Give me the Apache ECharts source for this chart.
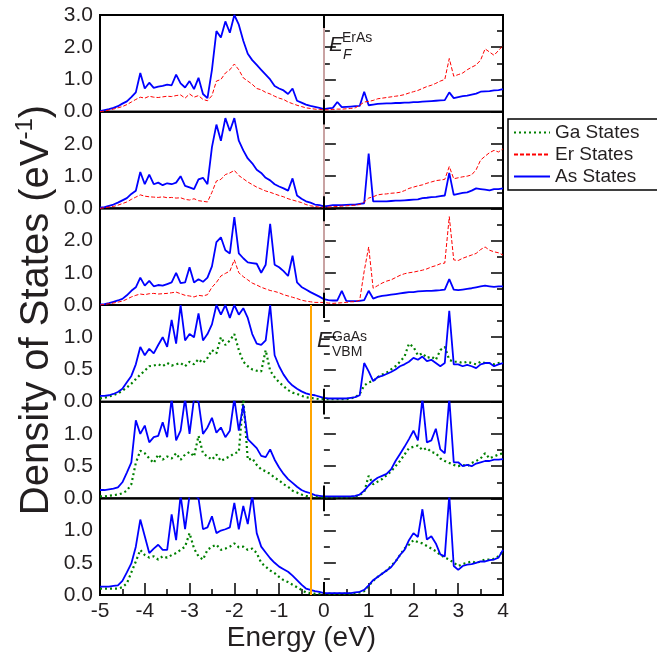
<!DOCTYPE html>
<html>
<head>
<meta charset="utf-8">
<title>Density of States</title>
<script src="https://cdn.jsdelivr.net/npm/echarts@6/dist/echarts.min.js"></script>
<style>
  html, body { margin: 0; padding: 0; background: #fff; }
  #chart { width: 657px; height: 656px; }
</style>
</head>
<body>
<div id="chart"></div>
<script>
// energy grid (eV), sampled every 0.1 eV from -5 to 4
const energy = Array.from({ length: 91 }, (_, i) => +(-5 + i * 0.1).toFixed(1));

// panel 1 (ErAs side)
const asP1 = [
  0.02, 0.05, 0.08, 0.12, 0.17, 0.25, 0.32, 0.45, 0.6, 1.2,
  0.72, 0.9, 0.74, 0.78, 0.8, 0.84, 0.82, 1.15, 0.88, 0.75,
  0.95, 0.7, 1.05, 0.55, 0.42, 1.3, 2.5, 2.3, 2.8, 2.45,
  3.0, 2.7, 2.2, 1.8, 1.6, 1.45, 1.3, 1.15, 1.0, 0.8,
  0.72, 0.66, 0.55, 0.72, 0.34, 0.28, 0.22, 0.18, 0.15, 0.12,
  0.08, 0.1, 0.12, 0.3, 0.14, 0.15, 0.16, 0.17, 0.18, 0.62,
  0.2, 0.22, 0.24, 0.25, 0.26, 0.26, 0.27, 0.27, 0.28, 0.28,
  0.3, 0.3, 0.31, 0.32, 0.33, 0.34, 0.35, 0.36, 0.6, 0.42,
  0.45, 0.48, 0.5, 0.53, 0.56, 0.62, 0.63, 0.64, 0.66, 0.67,
  0.7
];
const erP1 = [
  0.0, 0.02, 0.05, 0.08, 0.12, 0.16, 0.22, 0.3, 0.38, 0.45,
  0.42, 0.48, 0.45, 0.44, 0.46, 0.48, 0.47, 0.5, 0.52, 0.42,
  0.55, 0.45, 0.5, 0.38, 0.34, 0.5, 0.95, 1.0, 1.2, 1.3,
  1.48, 1.3, 1.05, 0.95, 0.85, 0.72, 0.68, 0.6, 0.55, 0.48,
  0.42, 0.38, 0.3, 0.25, 0.2, 0.16, 0.12, 0.1, 0.08, 0.07,
  0.06, 0.06, 0.07, 0.08, 0.08, 0.09, 0.1, 0.12, 0.2, 0.3,
  0.32, 0.35, 0.4, 0.42, 0.44, 0.46, 0.48, 0.5, 0.53, 0.58,
  0.62, 0.66, 0.72, 0.78, 0.82, 0.88, 0.95, 1.0, 1.65, 1.1,
  1.15, 1.2, 1.3, 1.38, 1.45, 1.6, 1.95, 1.85, 1.75, 1.9,
  2.05
];

// panel 2
const asP2 = [
  0.02, 0.04, 0.08, 0.12, 0.18, 0.25, 0.32, 0.45, 0.55, 1.13,
  0.75, 1.05, 0.75, 0.8, 0.72, 0.78, 0.75, 0.8, 1.0, 0.7,
  0.65, 0.6, 0.9, 0.95, 0.75, 1.9, 2.6, 2.1, 2.8, 2.4,
  2.8, 2.1, 1.8, 1.55, 1.4, 1.2, 1.1, 0.95, 0.87, 0.75,
  0.68, 0.62, 0.55, 0.93, 0.4, 0.3, 0.22, 0.18, 0.12, 0.1,
  0.06, 0.08, 0.1, 0.1, 0.1, 0.11, 0.12, 0.12, 0.14, 0.16,
  1.7, 0.22, 0.22, 0.22, 0.22, 0.23, 0.24, 0.24, 0.25, 0.26,
  0.27, 0.28, 0.32, 0.33, 0.35, 0.36, 0.38, 0.4, 1.1, 0.42,
  0.45, 0.48, 0.5, 0.55, 0.62, 0.6, 0.58, 0.56, 0.6, 0.6,
  0.62
];
const erP2 = [
  0.0, 0.02, 0.04, 0.06, 0.1, 0.15, 0.2, 0.28, 0.35, 0.42,
  0.38, 0.36, 0.35, 0.34, 0.36, 0.33, 0.34, 0.32, 0.33, 0.28,
  0.26, 0.3, 0.24, 0.22, 0.2, 0.5, 0.85, 0.9, 1.05, 1.1,
  1.18, 1.02, 0.92, 0.82, 0.74, 0.66, 0.6, 0.54, 0.5, 0.45,
  0.4, 0.36, 0.3, 0.26, 0.22, 0.18, 0.12, 0.08, 0.06, 0.04,
  0.03, 0.04, 0.05, 0.06, 0.07, 0.08, 0.09, 0.1, 0.12, 0.2,
  0.32, 0.36, 0.42, 0.44, 0.45, 0.47, 0.48, 0.5, 0.55, 0.62,
  0.66, 0.7, 0.73, 0.78, 0.82, 0.86, 0.88, 0.9, 1.3, 0.92,
  0.95, 0.98, 1.0, 1.04, 1.2, 1.5, 1.62, 1.73, 1.8, 1.75,
  1.85
];

// panel 3
const asP3 = [
  0.02, 0.03, 0.06, 0.1, 0.14, 0.19, 0.3, 0.44, 0.55, 0.85,
  0.6, 0.75, 0.58, 0.62, 0.6, 0.65, 0.7, 1.0, 0.68, 0.7,
  1.17, 0.7, 0.8, 0.72, 0.85, 1.2, 1.95, 2.1, 1.7, 1.6,
  2.73, 1.6, 1.45, 1.32, 1.3, 1.28, 1.0, 1.25, 2.52, 1.25,
  1.17, 1.05, 0.9, 1.53, 0.7, 0.56, 0.48, 0.4, 0.33, 0.26,
  0.18, 0.15, 0.14, 0.14, 0.44, 0.13, 0.12, 0.12, 0.13, 0.15,
  0.44, 0.2, 0.25, 0.28, 0.3, 0.32, 0.34, 0.36, 0.38, 0.4,
  0.4, 0.42, 0.43, 0.44, 0.44, 0.45, 0.46, 0.48, 0.8, 0.48,
  0.46, 0.48, 0.5, 0.52, 0.55, 0.58, 0.6, 0.58, 0.56, 0.58,
  0.58
];
const erP3 = [
  0.0, 0.02, 0.04, 0.06, 0.09, 0.12, 0.18, 0.25, 0.3, 0.34,
  0.32, 0.35, 0.36, 0.34, 0.35, 0.36, 0.38, 0.4, 0.35, 0.3,
  0.28, 0.25, 0.3, 0.28, 0.32, 0.55, 0.7, 0.9, 0.98, 1.05,
  1.4, 1.0, 0.88, 0.78, 0.68, 0.62, 0.55, 0.5, 0.45, 0.42,
  0.38, 0.32, 0.28, 0.24, 0.2, 0.15, 0.12, 0.1, 0.08, 0.08,
  0.08, 0.06, 0.05, 0.06, 0.07, 0.08, 0.1, 0.1, 0.15, 1.05,
  1.8, 0.52, 0.6, 0.68, 0.74, 0.78, 0.85, 0.92, 0.97, 1.0,
  1.02, 1.05, 1.08, 1.12, 1.18, 1.22, 1.28, 1.3, 2.74, 1.4,
  1.38, 1.45, 1.5, 1.55, 1.6, 1.72, 1.8, 1.7, 1.65, 1.62,
  1.55
];

// panel 4 (GaAs side)
const gaP4 = [
  0.05, 0.06, 0.08, 0.1, 0.13, 0.17, 0.22, 0.28, 0.35, 0.42,
  0.48, 0.55, 0.56, 0.58, 0.55, 0.6, 0.56, 0.58, 0.6, 0.55,
  0.62, 0.58, 0.66, 0.6, 0.68, 0.8, 0.75, 1.0, 0.88, 0.95,
  1.05, 0.8, 0.62, 0.55, 0.5, 0.48, 0.47, 0.8, 0.48, 0.38,
  0.3, 0.24, 0.18, 0.14, 0.12, 0.09, 0.07, 0.06, 0.05, 0.04,
  0.04, 0.04, 0.04, 0.04, 0.04, 0.04, 0.05, 0.07, 0.12, 0.25,
  0.3, 0.32, 0.38, 0.42, 0.45, 0.5, 0.55, 0.62, 0.7, 0.9,
  0.85, 0.72, 0.75, 0.68, 0.7, 0.65, 0.8, 0.85, 0.65, 0.62,
  0.62, 0.6, 0.62, 0.6, 0.58, 0.62, 0.6, 0.6, 0.58, 0.6,
  0.62
];
const asP4 = [
  0.09, 0.09, 0.1, 0.12, 0.15, 0.2, 0.3, 0.4, 0.58, 0.85,
  0.72, 0.82, 0.75, 0.88, 1.0, 0.85, 1.27, 0.9, 1.5, 0.95,
  1.05, 1.0, 1.37, 0.95, 1.05, 1.2, 1.5, 1.35, 1.5, 1.3,
  1.5, 1.35, 1.45, 1.3, 1.05, 0.9, 0.88, 0.95, 1.5, 0.72,
  0.55, 0.42, 0.32, 0.25, 0.2, 0.16, 0.13, 0.11, 0.1, 0.08,
  0.06, 0.05, 0.05, 0.05, 0.05, 0.05, 0.06, 0.07, 0.1, 0.6,
  0.47, 0.32, 0.38, 0.4, 0.43, 0.46, 0.5, 0.55, 0.58, 0.62,
  0.68, 0.65, 0.7, 0.63, 0.65, 0.6, 0.55, 0.6, 1.41, 0.58,
  0.58, 0.55, 0.57, 0.55, 0.52, 0.58, 0.6, 0.6, 0.55, 0.58,
  0.6
];

// panel 5
const gaP5 = [
  0.03, 0.03, 0.04, 0.05, 0.06, 0.08, 0.12, 0.22, 0.55, 0.74,
  0.7, 0.62, 0.55, 0.68, 0.6, 0.65, 0.62, 0.7, 0.6, 0.68,
  0.72, 0.65, 0.97, 0.7, 0.65, 0.6, 0.68, 0.58, 0.62, 0.65,
  0.7, 0.72, 1.55, 0.6, 0.62, 0.52, 0.45, 0.42, 0.38, 0.32,
  0.28, 0.22, 0.18, 0.12, 0.09, 0.06, 0.04, 0.03, 0.03, 0.02,
  0.02, 0.02, 0.02, 0.02, 0.02, 0.02, 0.02, 0.03, 0.05, 0.1,
  0.35, 0.22, 0.26, 0.3, 0.36, 0.42, 0.5, 0.58, 0.68, 0.78,
  0.8, 0.82, 0.75, 0.78, 0.72, 0.7, 0.62, 0.58, 0.55, 0.52,
  0.5, 0.52, 0.5, 0.55, 0.58, 0.62, 0.7, 0.62, 0.65, 0.68,
  0.7
];
const asP5 = [
  0.13, 0.13, 0.14, 0.15, 0.17, 0.25, 0.4, 0.56, 1.21, 1.0,
  1.13, 0.87, 0.95, 0.97, 1.18, 0.95, 1.55, 0.9, 1.05, 1.55,
  1.0, 1.55, 1.5, 1.0, 1.1, 1.25, 1.02, 1.1, 0.95, 1.05,
  1.55, 1.05, 1.45, 0.92, 0.85, 0.78, 0.66, 0.64, 0.76, 0.6,
  0.48, 0.38, 0.3, 0.24, 0.18, 0.13, 0.1, 0.08, 0.05, 0.04,
  0.03, 0.03, 0.03, 0.03, 0.03, 0.03, 0.03, 0.04, 0.06, 0.12,
  0.2, 0.27, 0.32, 0.35, 0.38, 0.45, 0.58, 0.69, 0.8, 0.92,
  1.05, 0.9, 1.55, 0.87, 0.9, 1.08, 0.76, 0.7, 1.55, 0.56,
  0.56, 0.5, 0.52, 0.5, 0.54, 0.56, 0.58, 0.58, 0.6, 0.6,
  0.61
];

// panel 6
const gaP6 = [
  0.1, 0.1, 0.1, 0.1, 0.1, 0.12, 0.18, 0.35, 0.52, 0.7,
  0.62, 0.58, 0.6, 0.55, 0.6, 0.58, 0.62, 0.65, 0.7, 0.75,
  0.96, 0.72, 0.6, 0.55, 0.7, 0.75, 0.78, 0.7, 0.72, 0.75,
  0.8, 0.74, 0.75, 0.7, 0.72, 0.65, 0.5, 0.44, 0.38, 0.34,
  0.28, 0.23, 0.2, 0.16, 0.12, 0.08, 0.04, 0.03, 0.02, 0.02,
  0.02, 0.02, 0.02, 0.02, 0.02, 0.02, 0.02, 0.03, 0.04, 0.06,
  0.14, 0.22, 0.28, 0.33, 0.38, 0.45, 0.52, 0.62, 0.72, 0.78,
  0.85, 0.82, 0.8, 0.76, 0.72, 0.68, 0.62, 0.58, 0.55, 0.5,
  0.45, 0.48, 0.5, 0.52, 0.5, 0.52, 0.55, 0.55, 0.56, 0.6,
  0.68
];
const asP6 = [
  0.13, 0.13, 0.13, 0.14, 0.15, 0.22, 0.35, 0.49, 0.75, 1.17,
  0.91, 0.65, 0.72, 0.78, 0.7, 0.7, 1.25, 0.85, 1.55, 1.02,
  1.55, 1.55, 1.5, 1.02, 1.05, 1.22, 0.96, 1.0, 1.02, 1.05,
  1.43, 1.02, 1.38, 1.1, 1.55, 0.96, 0.75, 0.66, 0.57, 0.5,
  0.44, 0.4, 0.36, 0.3, 0.23, 0.16, 0.1, 0.08, 0.06, 0.05,
  0.03, 0.03, 0.03, 0.03, 0.03, 0.03, 0.03, 0.04, 0.05, 0.08,
  0.15, 0.23, 0.28, 0.33, 0.38, 0.43, 0.52, 0.62, 0.7, 0.85,
  0.96, 0.9, 1.33, 0.86, 0.91, 0.8, 0.63, 0.6, 1.55, 0.45,
  0.39, 0.45, 0.47, 0.48, 0.5, 0.52, 0.52, 0.54, 0.55, 0.58,
  0.7
];

// reference energies
const fermiLevel = 0;     // E_F of ErAs
const vbmLevel = -0.3;    // E_VBM of GaAs

const FONT = '"Liberation Sans", Arial, Helvetica, sans-serif';
const TXT = '#231f20';
const BLUE = '#0000ff', RED = '#ff0000', GREEN = '#008000';

const panels = [
  { top: 15,    max: 3,   interval: 1,   first: ['As States', asP1], second: ['Er States', erP1] },
  { top: 111.7, max: 3,   interval: 1,   first: ['As States', asP2], second: ['Er States', erP2] },
  { top: 208.3, max: 3,   interval: 1,   first: ['As States', asP3], second: ['Er States', erP3] },
  { top: 305,   max: 1.5, interval: 0.5, first: ['Ga States', gaP4], second: ['As States', asP4] },
  { top: 401.7, max: 1.5, interval: 0.5, first: ['Ga States', gaP5], second: ['As States', asP5] },
  { top: 498.3, max: 1.5, interval: 0.5, first: ['Ga States', gaP6], second: ['As States', asP6] }
];
const H = 96.7;

const styles = {
  'As States': { color: BLUE, width: 1.8, type: 'solid' },
  'Er States': { color: RED, width: 1, type: [4, 2] },
  'Ga States': { color: GREEN, width: 2.2, type: [2, 3] }
};

const grids = [], xAxes = [], yAxes = [], series = [];

panels.forEach((p, i) => {
  const last = i === panels.length - 1;
  grids.push({
    left: 100, width: 403, top: p.top, height: H,
    show: true, borderColor: '#000', borderWidth: 2, backgroundColor: 'transparent',
    outerBoundsMode: 'none'
  });
  xAxes.push({
    type: 'value', gridIndex: i, min: -5, max: 4, interval: 1,
    axisLine: { show: false },
    axisTick: { show: last, inside: true, length: 12, lineStyle: { color: '#000', width: 1.5 } },
    minorTick: { show: last, splitNumber: 2, length: 6, lineStyle: { color: '#000', width: 1.5 } },
    splitLine: { show: false },
    axisLabel: { show: last, fontSize: 21, fontFamily: FONT, color: TXT, margin: 6 },
    name: last ? 'Energy (eV)' : '',
    nameLocation: 'middle', nameGap: 29,
    nameTextStyle: { fontSize: 28, fontFamily: FONT, color: TXT }
  });
  const yBase = {
    type: 'value', gridIndex: i, min: 0, max: p.max, interval: p.interval,
    axisLine: { show: false },
    axisTick: { show: true, inside: true, length: 12, lineStyle: { color: '#000', width: 1.5 } },
    minorTick: { show: true, splitNumber: 2, length: 6, lineStyle: { color: '#000', width: 1.5 } },
    splitLine: { show: false }
  };
  yAxes.push(Object.assign({}, yBase, {
    position: 'left',
    axisLabel: {
      fontSize: 21, fontFamily: FONT, color: TXT, margin: 7,
      formatter: v => (i > 0 && v >= p.max - 1e-9) ? '' : v.toFixed(1)
    }
  }));
  yAxes.push(Object.assign({}, yBase, { position: 'right', axisLabel: { show: false } }));

  // reference lines for this panel
  const lines = [];
  if (i < 3) {
    lines.push([{ coord: [fermiLevel, 0], lineStyle: { color: '#000', width: 2, type: 'solid' } }, { coord: [fermiLevel, p.max] }]);
    lines.push([{ coord: [fermiLevel, 0.38], lineStyle: { color: '#c9a3a3', width: 2, type: 'solid' } }, { coord: [fermiLevel, p.max - 0.4] }]);
  } else {
    lines.push([{ coord: [fermiLevel, 0], lineStyle: { color: '#000', width: 2, type: 'solid' } }, { coord: [fermiLevel, 0.2] }]);
    lines.push([{ coord: [fermiLevel, p.max - 0.2], lineStyle: { color: '#000', width: 2, type: 'solid' } }, { coord: [fermiLevel, p.max] }]);
    lines.push([{ coord: [vbmLevel, 0], lineStyle: { color: '#ffa500', width: 2, type: 'solid' } }, { coord: [vbmLevel, p.max] }]);
  }

  [p.first, p.second].forEach(([name, vals], k) => {
    const s = styles[name];
    series.push({
      name, type: 'line', xAxisIndex: i, yAxisIndex: i * 2,
      data: energy.map((e, j) => [e, vals[j]]),
      symbol: 'none', showSymbol: false, clip: true,
      lineStyle: { color: s.color, width: s.width, type: s.type },
      itemStyle: { color: s.color },
      z: 2 + k,
      markLine: k === 0 ? {
        silent: true, symbol: 'none', label: { show: false },
        lineStyle: { type: 'solid' }, data: lines
      } : undefined
    });
  });
});

const chart = echarts.init(document.getElementById('chart'), null, { renderer: 'canvas' });
chart.setOption({
  animation: false,
  backgroundColor: '#fff',
  grid: grids,
  xAxis: xAxes,
  yAxis: yAxes,
  series,
  legend: {
    data: ['Ga States', 'Er States', 'As States'],
    orient: 'vertical', left: 508, top: 119,
    padding: [4, 40, 4, 5], itemGap: 3,
    itemWidth: 36, itemHeight: 14,
    borderColor: '#000', borderWidth: 1.5, borderRadius: 0,
    backgroundColor: '#fff',
    itemStyle: { opacity: 0 },
    textStyle: { fontSize: 19, fontFamily: FONT, color: TXT },
    selectedMode: false
  },
  graphic: [
    {
      type: 'text', x: 34, y: 310, rotation: Math.PI / 2,
      style: {
        text: '{t|Density of States (eV}{s|-1}{t|)}',
        align: 'center', verticalAlign: 'middle', fill: TXT,
        rich: {
          t: { fontSize: 40, fontFamily: FONT, fill: TXT, lineHeight: 46, verticalAlign: 'bottom' },
          s: { fontSize: 24, fontFamily: FONT, fill: TXT, lineHeight: 46, verticalAlign: 'top', padding: [2, 0, 0, 0] }
        }
      }
    },
    { type: 'text', x: 329, y: 45, style: { text: 'E', font: 'italic 21px ' + FONT, fill: TXT, verticalAlign: 'middle' } },
    { type: 'text', x: 342, y: 38, style: { text: 'ErAs', font: '14px ' + FONT, fill: TXT, verticalAlign: 'middle' } },
    { type: 'text', x: 343, y: 55, style: { text: 'F', font: 'italic 14px ' + FONT, fill: TXT, verticalAlign: 'middle' } },
    { type: 'text', x: 317, y: 341, style: { text: 'E', font: 'italic 22px ' + FONT, fill: TXT, verticalAlign: 'middle' } },
    { type: 'text', x: 332, y: 337, style: { text: 'GaAs', font: '14px ' + FONT, fill: TXT, verticalAlign: 'middle' } },
    { type: 'text', x: 332, y: 352, style: { text: 'VBM', font: '14px ' + FONT, fill: TXT, verticalAlign: 'middle' } }
  ]
});
</script>
</body>
</html>
